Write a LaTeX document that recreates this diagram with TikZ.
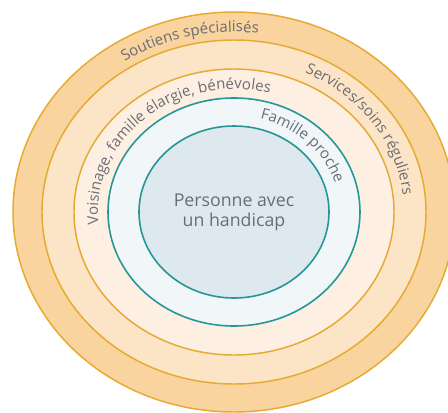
\documentclass[tikz,border=0pt]{standalone}
\usepackage{fontspec}
\setmainfont{Open Sans}
\usetikzlibrary{decorations.text}
\definecolor{ringA}{RGB}{249,212,158}
\definecolor{ringB}{RGB}{252,228,198}
\definecolor{ringC}{RGB}{253,240,226}
\definecolor{ringD}{RGB}{241,247,249}
\definecolor{core}{RGB}{221,233,239}
\definecolor{goldline}{RGB}{230,170,50}
\definecolor{tealline}{RGB}{38,150,150}
\definecolor{labelgray}{RGB}{108,108,118}
\newcommand{\ringfont}{\fontsize{11.3pt}{13pt}\selectfont}
\tikzstyle{goldring} = [draw=goldline, line width=1.1pt]
\tikzstyle{tealring} = [draw=tealline, line width=1.2pt]
\tikzstyle{ringlabel} = [decorate, decoration={text along path, text align=center, text color=labelgray}]
\tikzstyle{corelabel} = [align=center, text=labelgray, font=\fontsize{13.3pt}{15pt}\selectfont]

\begin{document}
\begin{tikzpicture}[x=0.75pt, y=0.75pt]
\useasboundingbox (-234,-200) rectangle (214,212);
\draw [goldring, fill=ringA] (0,0) ellipse [x radius=221, y radius=200];
\draw [goldring, fill=ringB] (0,0) ellipse [x radius=192, y radius=172];
\draw [goldring, fill=ringC] (0,0) ellipse [x radius=160, y radius=143];
\draw [tealring, fill=ringD] (0,0) ellipse [x radius=126, y radius=114];
\draw [tealring, fill=core] (0,0) ellipse [x radius=95, y radius=86];
\node (person) [corelabel] at (0,0) {Personne avec\\un handicap};
\path [ringlabel, decoration={text={|\ringfont|Soutiens spécialisés}}] (165:199 and 180) arc [start angle=165, end angle=43, x radius=199, y radius=180];
\path [ringlabel, decoration={text={|\ringfont|Services/soins réguliers}}] (82:170 and 153) arc [start angle=82, end angle=-12, x radius=170, y radius=153];
\path [ringlabel, decoration={text={|\ringfont|Voisinage, famille élargie, bénévoles}}] (205:136 and 123) arc [start angle=205, end angle=57, x radius=136, y radius=123];
\path [ringlabel, decoration={text={|\ringfont|Famille proche}}] (88:106 and 96) arc [start angle=88, end angle=4, x radius=106, y radius=96];
\end{tikzpicture}
\end{document}
